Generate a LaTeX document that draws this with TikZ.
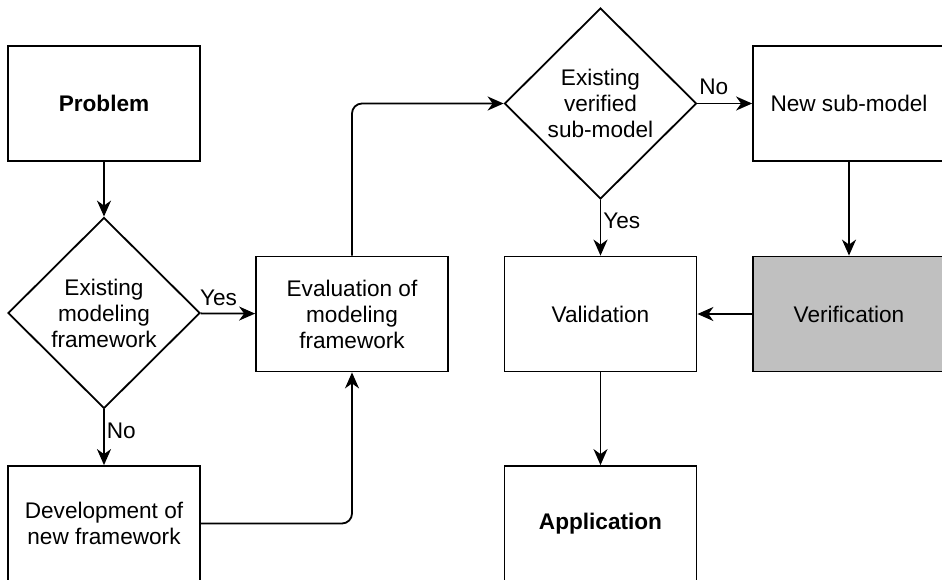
\documentclass[tikz,border=0pt]{standalone}
\usepackage{fontspec}
\setmainfont{Liberation Sans}
\usetikzlibrary{arrows.meta,positioning,shapes.geometric}
\definecolor{ink}{HTML}{000000}
\definecolor{shade}{HTML}{C0C0C0}
\tikzset{stepbox/.style={draw=ink,line width=1.8pt,minimum width=192pt,minimum height=115pt,inner sep=0pt,align=center,font=\fontsize{22.6}{26}\selectfont}, decision/.style={draw=ink,line width=1.8pt,diamond,shape aspect=1,minimum width=192pt,minimum height=191pt,inner sep=0pt,align=center,font=\fontsize{22.6}{26}\selectfont}, flowline/.style={draw=ink,line width=1.8pt,-{Stealth[length=16pt,width=14pt,inset=5pt]},rounded corners=10pt}, note/.style={font=\fontsize{22.6}{26}\selectfont,inner sep=2pt}}

\begin{document}
\begin{tikzpicture}[x=1pt,y=-1pt]
\clip (0,0) rectangle (942,579);
\node[stepbox,font=\fontsize{22.6}{26}\selectfont\bfseries] (prob) at (104,103.5) {Problem};
\node[decision] (exfw) at (104,313) {Existing\\modeling\\framework};
\node[stepbox] (eval) at (352,314) {Evaluation of\\modeling\\framework};
\node[stepbox] (devfw) at (104,523.5) {Development of\\new framework};
\node[decision] (exsub) at (600.5,103.5) {Existing\\verified\\sub-model};
\node[stepbox] (newsub) at (849,103.5) {New sub-model};
\node[stepbox] (valid) at (600.5,314) {Validation};
\node[stepbox,fill=shade] (verif) at (849,314) {Verification};
\node[stepbox,font=\fontsize{22.6}{26}\selectfont\bfseries] (appl) at (600.5,523.5) {Application};
% left part
\draw[flowline] (prob)--(exfw);
\draw[flowline] (exfw)--(eval) node[pos=.33,above,note,inner sep=7pt] {Yes};
\draw[flowline] (exfw)--(devfw) node[pos=.38,right,note] {No};
\draw[flowline] (devfw.east) -| (eval.south);
\draw[flowline] (eval.north) |- (exsub.west);
% right part
\draw[flowline] (exsub)--(newsub) node[pos=.3,above,note,inner sep=8pt] {No};
\draw[flowline] (exsub)--(valid) node[pos=.38,right,note] {Yes};
\draw[flowline] (newsub)--(verif);
\draw[flowline] (verif)--(valid);
\draw[flowline] (valid)--(appl);
\end{tikzpicture}
\end{document}
